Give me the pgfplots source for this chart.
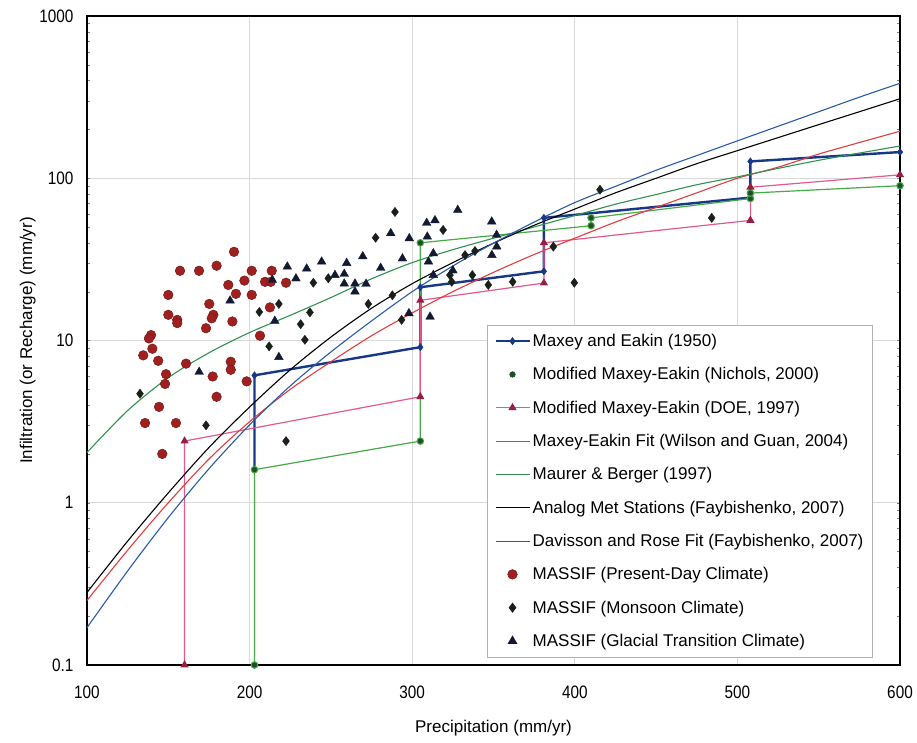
\documentclass[border=0pt]{standalone}
\usepackage{fontspec}
\setmainfont{Liberation Sans}
\newfontfamily\tickfont{Liberation Sans}[FakeStretch=0.85]
\usepackage{pgfplots}
\pgfplotsset{compat=1.18}
\definecolor{mxnavy}{RGB}{25,55,135}
\definecolor{nichg}{RGB}{70,170,70}
\definecolor{nichdark}{RGB}{30,80,40}
\definecolor{doepink}{RGB}{228,90,140}
\definecolor{doemark}{RGB}{150,30,70}
\definecolor{wgred}{RGB}{228,60,60}
\definecolor{mbgreen}{RGB}{50,145,80}
\definecolor{drblue}{RGB}{40,90,170}
\definecolor{massred}{RGB}{160,32,32}
\definecolor{monsoon}{RGB}{25,32,25}
\definecolor{glacial}{RGB}{20,25,50}
\begin{document}
\begin{tikzpicture}
\useasboundingbox (-87pt,-77pt) rectangle (830pt,665pt);
\begin{axis}[
  scale only axis, width=813pt, height=649pt,
  xmin=100, xmax=600, ymin=0.1, ymax=1000,
  ymode=log,
  xtick={100,200,300,400,500,600},
  xticklabels={100,200,300,400,500,600},
  ytick={0.1,1,10,100,1000},
  yticklabels={0.1,1,10,100,1000},
  minor ytick={}, 
  major tick length=0pt,
  grid=major,
  major grid style={black!15, line width=0.9pt},
  axis line style={line width=1.6pt},
  tick label style={font=\tickfont\fontsize{18}{18}\selectfont},
  xticklabel style={yshift=-17pt},
  yticklabel style={xshift=-10pt},
  xlabel={Precipitation (mm/yr)},
  ylabel={Infiltration (or Recharge) (mm/yr)},
  every axis x label/.style={at={(axis description cs:0.5,-0.097)}, anchor=center, font=\fontsize{17}{17}\selectfont},
  every axis y label/.style={at={(axis description cs:-0.073,0.5)}, rotate=90, anchor=center, font=\fontsize{17}{17}\selectfont},
  legend image code/.code={\draw[mark repeat=2,mark phase=2,#1] plot coordinates {(0pt,0pt) (17pt,0pt) (34pt,0pt)};},
  legend style={at={(0.492,0.524)}, anchor=north west, fill=white, draw=black!30, line width=0.6pt,
    font=\fontsize{17}{17}\selectfont, row sep=15.5pt, inner xsep=7pt, inner ysep=7pt,
    cells={anchor=west}},
  legend cell align=left,
]
% Maxey and Eakin (1950)
\addplot[mxnavy, line width=2.4pt, mark=diamond*, mark size=3.5pt, mark options={solid, line width=0.6pt}]
 coordinates {(203,1.6) (203,6.1) (305,9.1) (305,21.3) (381,26.7) (381,57) (508,76) (508,127) (600,145)};
\addlegendentry{Maxey and Eakin (1950)}
% Modified Maxey-Eakin (Nichols, 2000)
\addplot[nichg, line width=1.2pt, mark=*, mark size=3.3pt, mark options={fill=nichdark, draw=nichg, line width=1pt}, forget plot]
 coordinates {(203,0.1) (203,1.6) (305,2.4) (305,40) (410,51) (410,57) (508,75) (508,81) (600,90)};
\addlegendimage{only marks, mark=*, mark size=2.8pt, mark options={fill=nichdark, draw=nichdark}}
\addlegendentry{Modified Maxey-Eakin (Nichols, 2000)}
% Modified Maxey-Eakin (DOE, 1997)
\addplot[doepink, line width=1.2pt, mark=triangle*, mark size=3.6pt, mark options={fill=doemark, draw=doemark, solid}]
 coordinates {(160,0.1) (160,2.4) (305,4.5) (305,17.7) (381,22.6) (381,40) (508,55) (508,88) (600,105)};
\addlegendentry{Modified Maxey-Eakin (DOE, 1997)}
% Maxey-Eakin Fit (Wilson and Guan, 2004)
\addplot[wgred, line width=1.1pt, smooth]
 coordinates {(100,0.25) (125,0.51) (150,1.0) (175,1.86) (200,3.16) (225,5.0) (250,7.4) (275,10.7) (300,14.8) (325,20) (350,26.3) (375,33.9) (400,42.7) (425,53.7) (450,66.1) (475,81.3) (500,100) (525,117) (550,141) (575,166) (600,195)};
\addlegendentry{Maxey-Eakin Fit (Wilson and Guan, 2004)}
% Maurer & Berger (1997)
\addplot[mbgreen, line width=1.1pt, smooth]
 coordinates {(100,2.04) (125,3.7) (150,5.9) (175,8.4) (200,11.2) (225,14.3) (250,18.4) (275,24.0) (300,30.2) (325,36.3) (350,42.7) (375,50.1) (400,58.9) (425,69.2) (450,79.4) (475,91.2) (500,102) (525,115) (550,129) (575,143) (600,158)};
\addlegendentry{Maurer \& Berger (1997)}
% Analog Met Stations (Faybishenko, 2007)
\addplot[black, line width=1.1pt, smooth]
 coordinates {(100,0.28) (125,0.58) (150,1.15) (175,2.19) (200,3.89) (225,6.6) (250,10.5) (275,15.8) (300,22.4) (325,30.2) (350,39.8) (375,51.3) (400,64.6) (425,81.3) (450,100) (475,123) (500,148) (525,178) (550,214) (575,257) (600,309)};
\addlegendentry{Analog Met Stations (Faybishenko, 2007)}
% Davisson and Rose Fit (Faybishenko, 2007)
\addplot[drblue, line width=1.1pt, smooth]
 coordinates {(100,0.17) (125,0.38) (150,0.81) (175,1.62) (200,3.02) (225,5.25) (250,8.5) (275,13.2) (300,20) (325,28.8) (350,39.8) (375,53.7) (400,70.8) (425,89.1) (450,112) (475,138) (500,170) (525,209) (550,257) (575,316) (600,385)};
\addlegendentry{Davisson and Rose Fit (Faybishenko, 2007)}
% MASSIF Present-Day
\addplot[only marks, mark=*, mark size=4.8pt, mark options={fill=massred, draw=massred!75!black, line width=0.5pt}]
 coordinates {(190.4,35.2) (157.2,26.9) (168.9,26.9) (179.7,28.9) (201.3,26.9) (213.6,26.9) (150.0,19.1) (186.9,22.0) (196.8,23.4) (209.5,23.0) (191.6,19.4) (201.3,19.1) (150.0,14.4) (155.5,13.4) (155.5,12.8) (175.2,16.8) (177.7,14.4) (176.7,13.7) (173.2,11.9) (189.4,13.1) (212.5,16.0) (139.4,10.8) (138.1,10.3) (140.2,8.9) (134.6,8.1) (143.8,7.5) (206.4,10.7) (160.9,7.2) (188.4,7.4) (188.4,6.6) (177.3,6.0) (198.2,5.6) (148.6,6.2) (148.0,5.4) (179.7,4.5) (144.3,3.9) (135.7,3.1) (154.7,3.1) (146.3,2.0) (222.4,22.7) (213.0,23.0)};
\addlegendentry{MASSIF (Present-Day Climate)}
% MASSIF Monsoon
\addplot[only marks, mark=diamond*, mark size=4.6pt, mark options={fill=monsoon, draw=monsoon}]
 coordinates {(132.6,4.7) (212,9.2) (173.2,3.0) (222.4,2.4) (206,15) (218,16.8) (239.2,22.7) (248.4,24.2) (237.1,14.9) (231.4,12.6) (234,10.1) (273,16.8) (287.8,19) (293.5,13.4) (277.5,43) (289.4,62) (319,48) (332.5,33.6) (338.6,35.6) (323.2,25.3) (337,25.3) (324.3,23) (346.8,22) (361.8,23) (386.8,37.9) (399.7,22.7) (415.5,85) (484.2,57)};
\addlegendentry{MASSIF (Monsoon Climate)}
% MASSIF Glacial Transition
\addplot[only marks, mark=triangle*, mark size=5pt, mark options={fill=glacial, draw=glacial}]
 coordinates {(188,17.6) (169,6.4) (214,23.6) (215.5,13.2) (218,7.9) (223.2,28.5) (228.5,24.1) (235.1,27.7) (244.3,30.6) (252.5,25.3) (258.2,25.7) (258.2,22.4) (259.7,30) (264.8,22.4) (264.8,20) (269.6,33) (271.6,22.3) (280.6,28) (286.8,45.8) (294,32) (298.2,42.6) (298,14.7) (308.9,53) (314,55) (309.3,43.6) (313,34.4) (310,30.6) (313,25.3) (311,14) (325,27) (328,63.7) (348.9,54) (351.9,44.7) (349,33.6) (352,37.9)};
\addlegendentry{MASSIF (Glacial Transition Climate)}
\end{axis}
\end{tikzpicture}
\end{document}
